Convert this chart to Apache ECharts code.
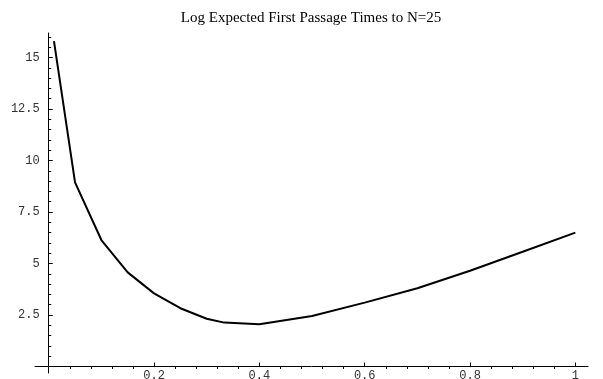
<!DOCTYPE html>
<html>
<head>
<meta charset="utf-8">
<script src="https://cdn.jsdelivr.net/npm/echarts@6/dist/echarts.min.js"></script>
<style>
  html, body { margin: 0; padding: 0; background: #fff; }
  #root { width: 603px; height: 379px; }
</style>
</head>
<body>
<div id="root"></div>
<script>
// p values and log expected first passage times
var pValues = [0.01, 0.05, 0.1, 0.15, 0.2, 0.25, 0.3, 0.3333, 0.4, 0.5, 0.6, 0.7, 0.8, 0.9, 1]
var logTimes = [15.8, 8.94, 6.14, 4.57, 3.55, 2.83, 2.32, 2.13, 2.05, 2.45, 3.1, 3.8, 4.65, 5.57, 6.5]

var xMajorTicks = [0.2, 0.4, 0.6, 0.8, 1]
var yMajorTicks = [2.5, 5, 7.5, 10, 12.5, 15]

var xMinorTicks = []
for (var i = 1; i <= 25; i++) {
  var v = +(i * 0.04).toFixed(2)
  if (xMajorTicks.indexOf(v) < 0) xMinorTicks.push(v)
}
var yMinorTicks = []
for (var j = 1; j <= 32; j++) {
  var w = j * 0.5
  if (yMajorTicks.indexOf(w) < 0) yMinorTicks.push(w)
}

var tickFont = { fontFamily: 'Liberation Mono', fontSize: 12, color: '#333' }
var black = { color: '#000', width: 1 }
var X_MAX = 1.024, Y_MAX = 16.19

var chart = echarts.init(document.getElementById('root'), null, { renderer: 'canvas' })
chart.setOption({
  animation: false,
  title: {
    text: 'Log Expected First Passage Times to N=25',
    left: 311,
    top: 11,
    padding: 0,
    textAlign: 'center',
    textStyle: { fontFamily: 'Liberation Serif', fontSize: 15, fontWeight: 'normal', color: '#000' }
  },
  grid: [
    // data grid: its edges are the axes (x = 0, y = 0)
    { left: 48.7, right: 15, top: 33, bottom: 12.5, containLabel: false, outerBoundsMode: 'none' },
    // wider grid that only draws the axis lines, crossing at the origin
    { left: 35, right: 15, top: 33, bottom: 6, containLabel: false, outerBoundsMode: 'none' }
  ],
  xAxis: [
    {
      gridIndex: 0, type: 'value', min: 0, max: X_MAX,
      axisLine: { show: false },
      axisTick: { customValues: xMajorTicks, inside: true, length: 4, lineStyle: black },
      axisLabel: Object.assign({ customValues: xMajorTicks, margin: 9.5, verticalAlign: 'middle' }, tickFont),
      splitLine: { show: false }
    },
    {
      gridIndex: 0, type: 'value', min: 0, max: X_MAX,
      axisLine: { show: false },
      axisTick: { customValues: xMinorTicks, inside: true, length: 2.5, lineStyle: black },
      axisLabel: { show: false },
      splitLine: { show: false }
    },
    {
      gridIndex: 1, type: 'value', min: -0.026, max: X_MAX,
      axisLine: { onZero: true, onZeroAxisIndex: 2, lineStyle: black },
      axisTick: { show: false },
      axisLabel: { show: false },
      splitLine: { show: false }
    }
  ],
  yAxis: [
    {
      gridIndex: 0, type: 'value', min: 0, max: Y_MAX,
      axisLine: { show: false },
      axisTick: { customValues: yMajorTicks, inside: true, length: 4, lineStyle: black },
      axisLabel: Object.assign({ customValues: yMajorTicks, margin: 9 }, tickFont),
      splitLine: { show: false }
    },
    {
      gridIndex: 0, type: 'value', min: 0, max: Y_MAX, position: 'left',
      axisLine: { show: false },
      axisTick: { customValues: yMinorTicks, inside: true, length: 2.5, lineStyle: black },
      axisLabel: { show: false },
      splitLine: { show: false }
    },
    {
      gridIndex: 1, type: 'value', min: -0.32, max: Y_MAX,
      axisLine: { onZero: true, onZeroAxisIndex: 2, lineStyle: black },
      axisTick: { show: false },
      axisLabel: { show: false },
      splitLine: { show: false }
    }
  ],
  series: [{
    type: 'line',
    xAxisIndex: 0,
    yAxisIndex: 0,
    data: pValues.map(function (p, k) { return [p, logTimes[k]] }),
    symbol: 'none',
    lineStyle: { color: '#000', width: 2 }
  }]
})
</script>
</body>
</html>
